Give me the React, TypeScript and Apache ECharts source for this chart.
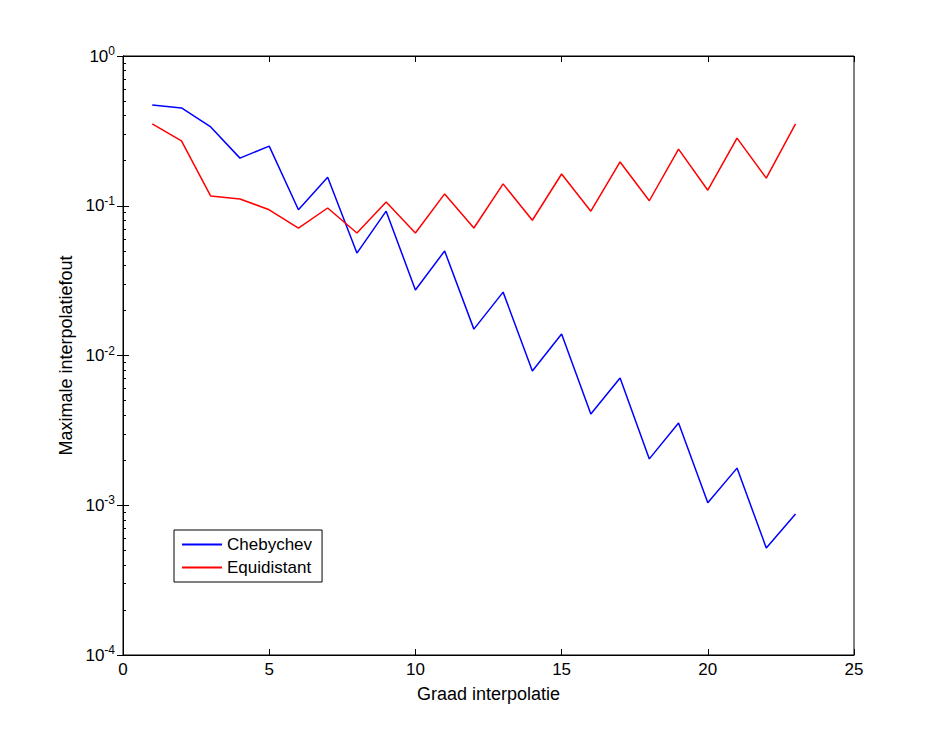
import React, { useEffect, useRef } from 'react';
import * as echarts from 'echarts';

const degrees = [1, 2, 3, 4, 5, 6, 7, 8, 9, 10, 11, 12, 13, 14, 15, 16, 17, 18, 19, 20, 21, 22, 23];
const chebychev = [0.47, 0.45, 0.336, 0.208, 0.25, 0.094, 0.155, 0.0483, 0.092, 0.0274, 0.0499, 0.015,
  0.0265, 0.00788, 0.0139, 0.00407, 0.00708, 0.00204, 0.00354, 0.00104, 0.00177, 0.000519, 0.000875];
const equidistant = [0.352, 0.271, 0.116, 0.111, 0.094, 0.071, 0.0966, 0.0658, 0.106, 0.0658, 0.12, 0.071,
  0.14, 0.08, 0.163, 0.092, 0.196, 0.108, 0.239, 0.127, 0.283, 0.153, 0.352];

const font = 'Liberation Sans, Arial, sans-serif';

const App: React.FC = () => {
  const ref = useRef<HTMLDivElement>(null);

  useEffect(() => {
    if (!ref.current) return;
    const chart = echarts.init(ref.current, undefined, { renderer: 'svg' });
    const tick = { show: true, inside: true, length: 6, lineStyle: { color: '#000' } };
    const line = { show: true, lineStyle: { color: '#000', width: 1 } };
    chart.setOption({
      animation: false,
      backgroundColor: '#fff',
      textStyle: { fontFamily: font },
      grid: { left: 123, right: 91, top: 56, bottom: 81, show: true, borderColor: '#000', borderWidth: 1 },
      legend: {
        orient: 'vertical',
        left: 174,
        top: 530,
        padding: [6, 10, 6, 8],
        itemGap: 6,
        itemWidth: 40,
        itemHeight: 2,
        borderColor: '#000',
        borderWidth: 1,
        backgroundColor: '#fff',
        icon: 'rect',
        textStyle: { fontSize: 17, color: '#000', fontFamily: font },
        data: ['Chebychev', 'Equidistant'],
      },
      xAxis: [
        {
          type: 'value', min: 0, max: 25, interval: 5,
          name: 'Graad interpolatie', nameLocation: 'middle', nameGap: 30,
          nameTextStyle: { fontSize: 18, color: '#000' },
          axisLine: line, axisTick: tick, splitLine: { show: false },
          axisLabel: { fontSize: 17, color: '#000', margin: 6 },
        },
        {
          type: 'value', min: 0, max: 25, interval: 5, position: 'top',
          axisLine: line, axisTick: tick, splitLine: { show: false }, axisLabel: { show: false },
        },
      ],
      yAxis: [
        {
          type: 'log', min: 1e-4, max: 1, logBase: 10,
          name: 'Maximale interpolatiefout', nameLocation: 'middle', nameGap: 48,
          nameTextStyle: { fontSize: 18, color: '#000' },
          axisLine: line, axisTick: tick, splitLine: { show: false },
          minorTick: { show: true, splitNumber: 9, length: 3, lineStyle: { color: '#000' } },
          axisLabel: {
            color: '#000', margin: 8,
            formatter: (v: number) => '{b|10}{s|' + Math.round(Math.log10(v)) + '}',
            rich: {
              b: { fontSize: 17, color: '#000', fontFamily: font },
              s: { fontSize: 12, color: '#000', fontFamily: font, verticalAlign: 'top', padding: [0, 0, 10, 0] },
            },
          },
        },
        {
          type: 'log', min: 1e-4, max: 1, logBase: 10, position: 'right',
          axisLine: line, axisTick: tick, splitLine: { show: false }, axisLabel: { show: false },
        },
      ],
      series: [
        {
          name: 'Chebychev', type: 'line', showSymbol: false, symbol: 'none',
          lineStyle: { color: '#0000ff', width: 1.5 }, itemStyle: { color: '#0000ff' },
          data: degrees.map((d, i) => [d, chebychev[i]]),
        },
        {
          name: 'Equidistant', type: 'line', showSymbol: false, symbol: 'none',
          lineStyle: { color: '#ff0000', width: 1.5 }, itemStyle: { color: '#ff0000' },
          data: degrees.map((d, i) => [d, equidistant[i]]),
        },
      ],
    });
    return () => chart.dispose();
  }, []);

  return <div ref={ref} style={{ width: 945, height: 736, margin: -8 }} />;
};

export default App;
